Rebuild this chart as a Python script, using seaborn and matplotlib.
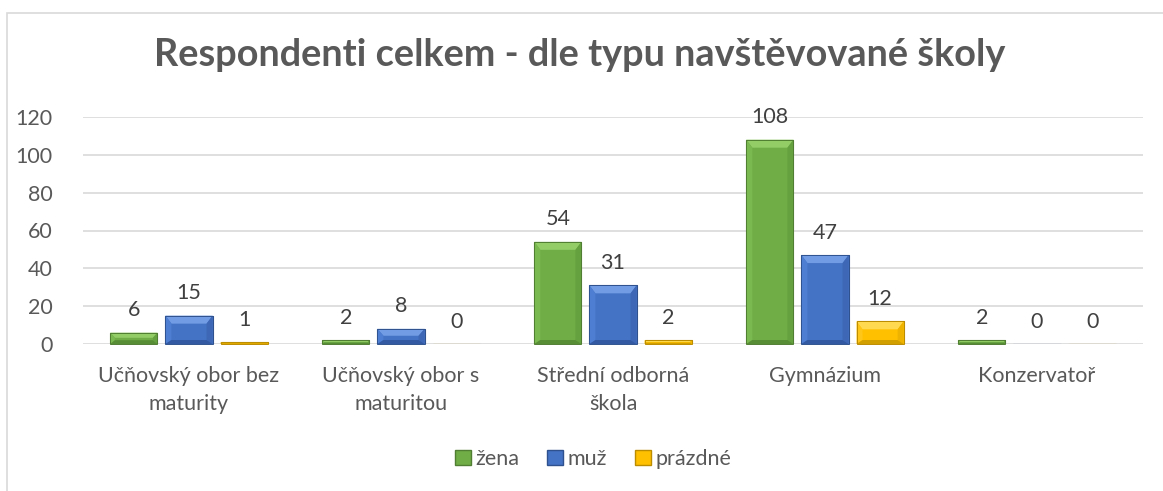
import matplotlib
matplotlib.use("Agg")
import matplotlib.pyplot as plt
import matplotlib.patches as mpatches
from matplotlib.transforms import IdentityTransform
import seaborn as sns
import pandas as pd

categories = ["Učňovský obor bez\nmaturity", "Učňovský obor s\nmaturitou",
              "Střední odborná\nškola", "Gymnázium", "Konzervatoř"]
series_names = ["žena", "muž", "prázdné"]
zena = [6, 2, 54, 108, 2]
muz = [15, 8, 31, 47, 0]
prazdne = [1, 0, 2, 12, 0]
yticks = [0, 20, 40, 60, 80, 100, 120]
title = "Respondenti celkem - dle typu navštěvované školy"

colors = ["#70AD47", "#4472C4", "#FFC000"]
edge_colors = ["#507E32", "#2F528F", "#BC8C00"]
bevel_top = ["#92CD66", "#729CE4", "#FFDA50"]
bevel_left = ["#7AB850", "#4E7ED2", "#FFC61A"]
bevel_right = ["#65A13F", "#3E68B6", "#EEB200"]
bevel_bottom = ["#578D35", "#3259A2", "#D29F00"]

rows = []
for name, vals in zip(series_names, [zena, muz, prazdne]):
    for c, v in zip(categories, vals):
        rows.append({"kategorie": c, "pohlaví": name, "počet": v})
df = pd.DataFrame(rows)

sns.set_style("white")
plt.rcParams["font.family"] = ["Lato", "DejaVu Sans"]

fig = plt.figure(figsize=(11.63, 4.91), dpi=100)
ax = fig.add_axes([83 / 1163, 147 / 491, 1060 / 1163, 227 / 491])

sns.barplot(data=df, x="kategorie", y="počet", hue="pohlaví", hue_order=series_names,
            order=categories, palette=colors, width=0.78, gap=0.145, ax=ax,
            legend=False, saturation=1, zorder=3)

ax.set_ylim(0, 120)
ax.set_yticks(yticks)
ax.set_yticklabels([str(t) for t in yticks])
ax.set_xlim(-0.5, len(categories) - 0.5)

for i, cont in enumerate(ax.containers):
    for p in cont.patches:
        p.set_edgecolor(edge_colors[i])
        p.set_linewidth(0.8)
    ax.bar_label(cont, labels=[str(int(round(p.get_height()))) for p in cont.patches],
                 padding=9, fontsize=15.5, color="#404040")

# bevel effect computed from the drawn bar geometry
fig.canvas.draw()
for i, cont in enumerate(ax.containers):
    for p in cont.patches:
        if p.get_height() <= 0:
            continue
        bb = p.get_window_extent()
        x0, y0, x1, y1 = bb.x0, bb.y0, bb.x1, bb.y1
        h = y1 - y0
        t = min(8.0, h / 2.2)
        s = min(6.0, h / 2.5)
        b = min(4.0, h / 3.0)
        ins = [(x0 + s, y0 + b), (x1 - s, y0 + b), (x1 - s, y1 - t), (x0 + s, y1 - t)]
        polys = [
            ([(x0, y1), (x1, y1), ins[2], ins[3]], bevel_top[i]),
            ([(x0, y0), (x0, y1), ins[3], ins[0]], bevel_left[i]),
            ([(x1, y0), (x1, y1), ins[2], ins[1]], bevel_right[i]),
            ([(x0, y0), (x1, y0), ins[1], ins[0]], bevel_bottom[i]),
        ]
        for pts, col in polys:
            fig.add_artist(mpatches.Polygon(pts, closed=True, facecolor=col,
                                            edgecolor="none", transform=IdentityTransform(),
                                            zorder=4))
        fig.add_artist(mpatches.Rectangle((x0, y0), x1 - x0, h, fill=False,
                                          edgecolor=edge_colors[i], linewidth=0.7,
                                          transform=IdentityTransform(), zorder=5))

ax.grid(axis="y", color="#D9D9D9", linewidth=1.2, zorder=0)
ax.set_axisbelow(True)
for s_ in ax.spines.values():
    s_.set_visible(False)
ax.tick_params(axis="both", length=0, labelsize=15.5, labelcolor="#595959")
ax.tick_params(axis="y", pad=22)
ax.tick_params(axis="x", pad=16)
ax.set_xlabel("")
ax.set_ylabel("")
for lbl in ax.get_xticklabels():
    lbl.set_linespacing(1.5)

fig.text(580 / 1163, 1 - 55 / 491, title, ha="center", va="center",
         fontsize=27.3, fontweight="bold", color="#595959")

handles = [mpatches.Patch(facecolor=c, edgecolor=e, label=n)
           for c, e, n in zip(colors, edge_colors, series_names)]
fig.legend(handles=handles, loc="center", bbox_to_anchor=(593 / 1163, 1 - 459 / 491),
           ncol=3, frameon=False, fontsize=15.5, labelcolor="#595959",
           handlelength=0.75, handleheight=0.75, handletextpad=0.2, columnspacing=1.3)

border = mpatches.Rectangle((7 / 1163, -0.1), 1.2, 1 - 13 / 491 + 0.1,
                            transform=fig.transFigure, fill=False,
                            edgecolor="#D9D9D9", linewidth=1.2)
fig.add_artist(border)

fig.savefig("out.png", dpi=100)
